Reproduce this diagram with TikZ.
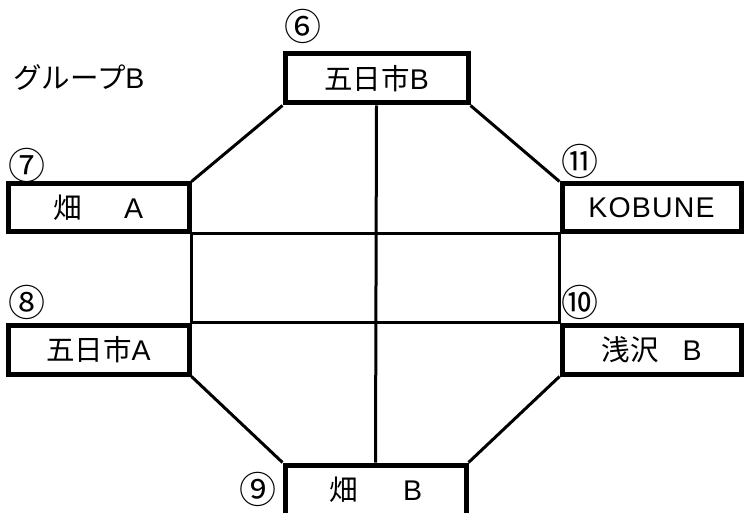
\documentclass[tikz,border=0pt]{standalone}
\usepackage{fontspec}
\setmainfont{Liberation Sans}[LetterSpace=4]
\newfontfamily\cjk{Noto Sans CJK JP}
\begin{document}
\begin{tikzpicture}[x=1pt,y=-1pt,
  box/.style={draw,line width=5pt,rectangle,inner sep=0pt,
    font=\fontsize{28.5}{30}\selectfont},
  thin/.style={line width=3pt},
  num/.style={inner sep=0pt,font=\cjk\fontsize{37}{38}\selectfont},
  lbl/.style={inner sep=0pt,font=\fontsize{28.5}{30}\selectfont}]
\useasboundingbox (0,0) rectangle (744,513);
\begin{scope}
\clip (-10,-10) rectangle (754,513);
% boxes
\node[box,minimum width=183pt,minimum height=49pt] (b6) at (376.5,78.5) {{\cjk 五日市}B};
\node[box,minimum width=181pt,minimum height=47pt] (b7) at (98.5,207.5) {{\cjk 畑}\hspace{42pt}A};
\node[box,minimum width=179pt,minimum height=47pt] (b11) at (651.5,207.5) {KOBUNE};
\node[box,minimum width=181pt,minimum height=49pt] (b8) at (98.5,349.5) {{\cjk 五日市}A};
\node[box,minimum width=179pt,minimum height=49pt] (b10) at (651.5,349.5) {{\cjk 浅沢}\hspace{24pt}B};
\node[box,minimum width=181pt,minimum height=70pt] (b9) at (375.5,500) {};
\node[lbl] (t9) at (376,490) {{\cjk 畑}\hspace{45pt}B};
\end{scope}
% connectors
\draw[thin] (b6.south west) -- (b7.north east);
\draw[thin] (b6.south east) -- (b11.north west);
\draw[thin] (b8.south east) -- (b9.north west);
\draw[thin] (b10.south west) -- (b9.north east);
\draw[thin] (b7.south east) -- (b11.south west);
\draw[thin] (b8.north east) -- (b10.north west);
\draw[thin] (b7.south east) -- (b8.north east);
\draw[thin] (b11.south west) -- (b10.north west);
\draw[thin] (b6.south) -- (b9.north);
% labels
\node[lbl,anchor=west] (grp) at (13,78) {{\cjk グループ}B};
\node[num] (n6) at (303,26.5) {⑥};
\node[num] (n7) at (27,165) {⑦};
\node[num] (n8) at (27,302) {⑧};
\node[num] (n9) at (257.5,489) {⑨};
\node[num] (n10) at (580,302) {⑩};
\node[num] (n11) at (580,161) {⑪};
\end{tikzpicture}
\end{document}
